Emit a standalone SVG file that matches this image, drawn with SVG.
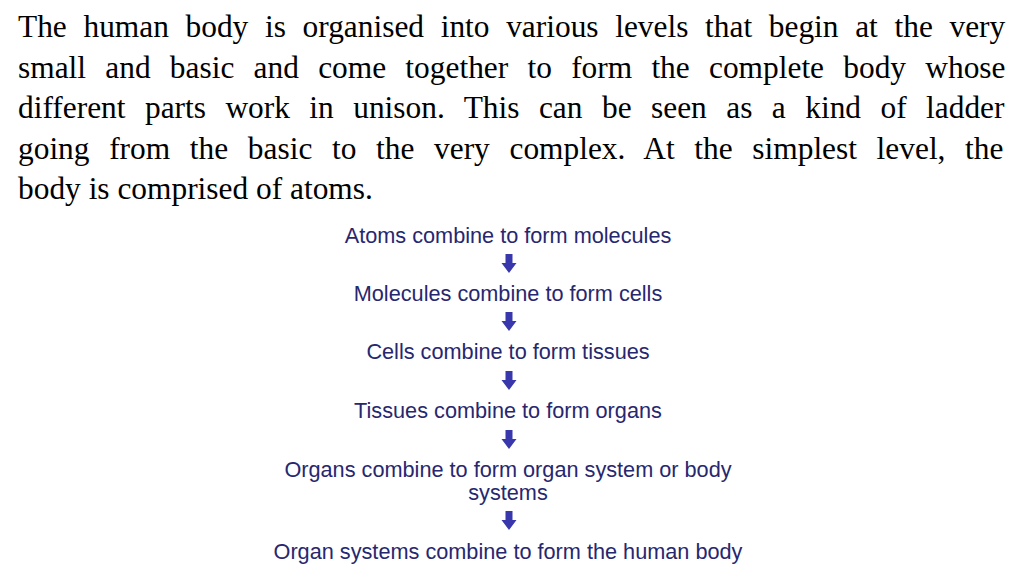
<svg xmlns="http://www.w3.org/2000/svg" xmlns:xlink="http://www.w3.org/1999/xlink" width="1024" height="576" viewBox="0 0 1024 576">
<style>
.p{font-family:"Liberation Serif","Times New Roman",serif;font-size:31.4px;fill:#000}
.n{font-family:"Liberation Sans",Arial,sans-serif;font-size:21.7px;fill:#27276f;text-anchor:middle}
.a{fill:#3838ac}
</style>
<defs>
<path id="arr" d="M-3.5,0 H3.5 V9 H7.5 L0,19 L-7.5,9 H-3.5 Z"/>
</defs>
<rect width="1024" height="576" fill="#fff"/>
<g id="paragraph">
<text class="p" x="18" y="37" word-spacing="8.8">The human body is organised into various levels that begin at the very</text>
<text class="p" x="18" y="78" word-spacing="11.4">small and basic and come together to form the complete body whose</text>
<text class="p" x="18" y="118" word-spacing="11.6">different parts work in unison. This can be seen as a kind of ladder</text>
<text class="p" x="18" y="159" word-spacing="11.8">going from the basic to the very complex. At the simplest level, the</text>
<text class="p" x="18" y="199">body is comprised of atoms.</text>
</g>
<g id="node1"><text class="n" x="508" y="243">Atoms combine to form molecules</text></g>
<g id="node2"><text class="n" x="508" y="301">Molecules combine to form cells</text></g>
<g id="node3"><text class="n" x="508" y="359">Cells combine to form tissues</text></g>
<g id="node4"><text class="n" x="508" y="418">Tissues combine to form organs</text></g>
<g id="node5"><text class="n" x="508" y="477">Organs combine to form organ system or body</text><text class="n" x="508" y="500">systems</text></g>
<g id="node6"><text class="n" x="508" y="559">Organ systems combine to form the human body</text></g>
<g id="connectors" class="a">
<use xlink:href="#arr" x="509" y="254"/>
<use xlink:href="#arr" x="509" y="312"/>
<use xlink:href="#arr" x="509" y="371"/>
<use xlink:href="#arr" x="509" y="430"/>
<use xlink:href="#arr" x="509" y="511"/>
</g>
</svg>
